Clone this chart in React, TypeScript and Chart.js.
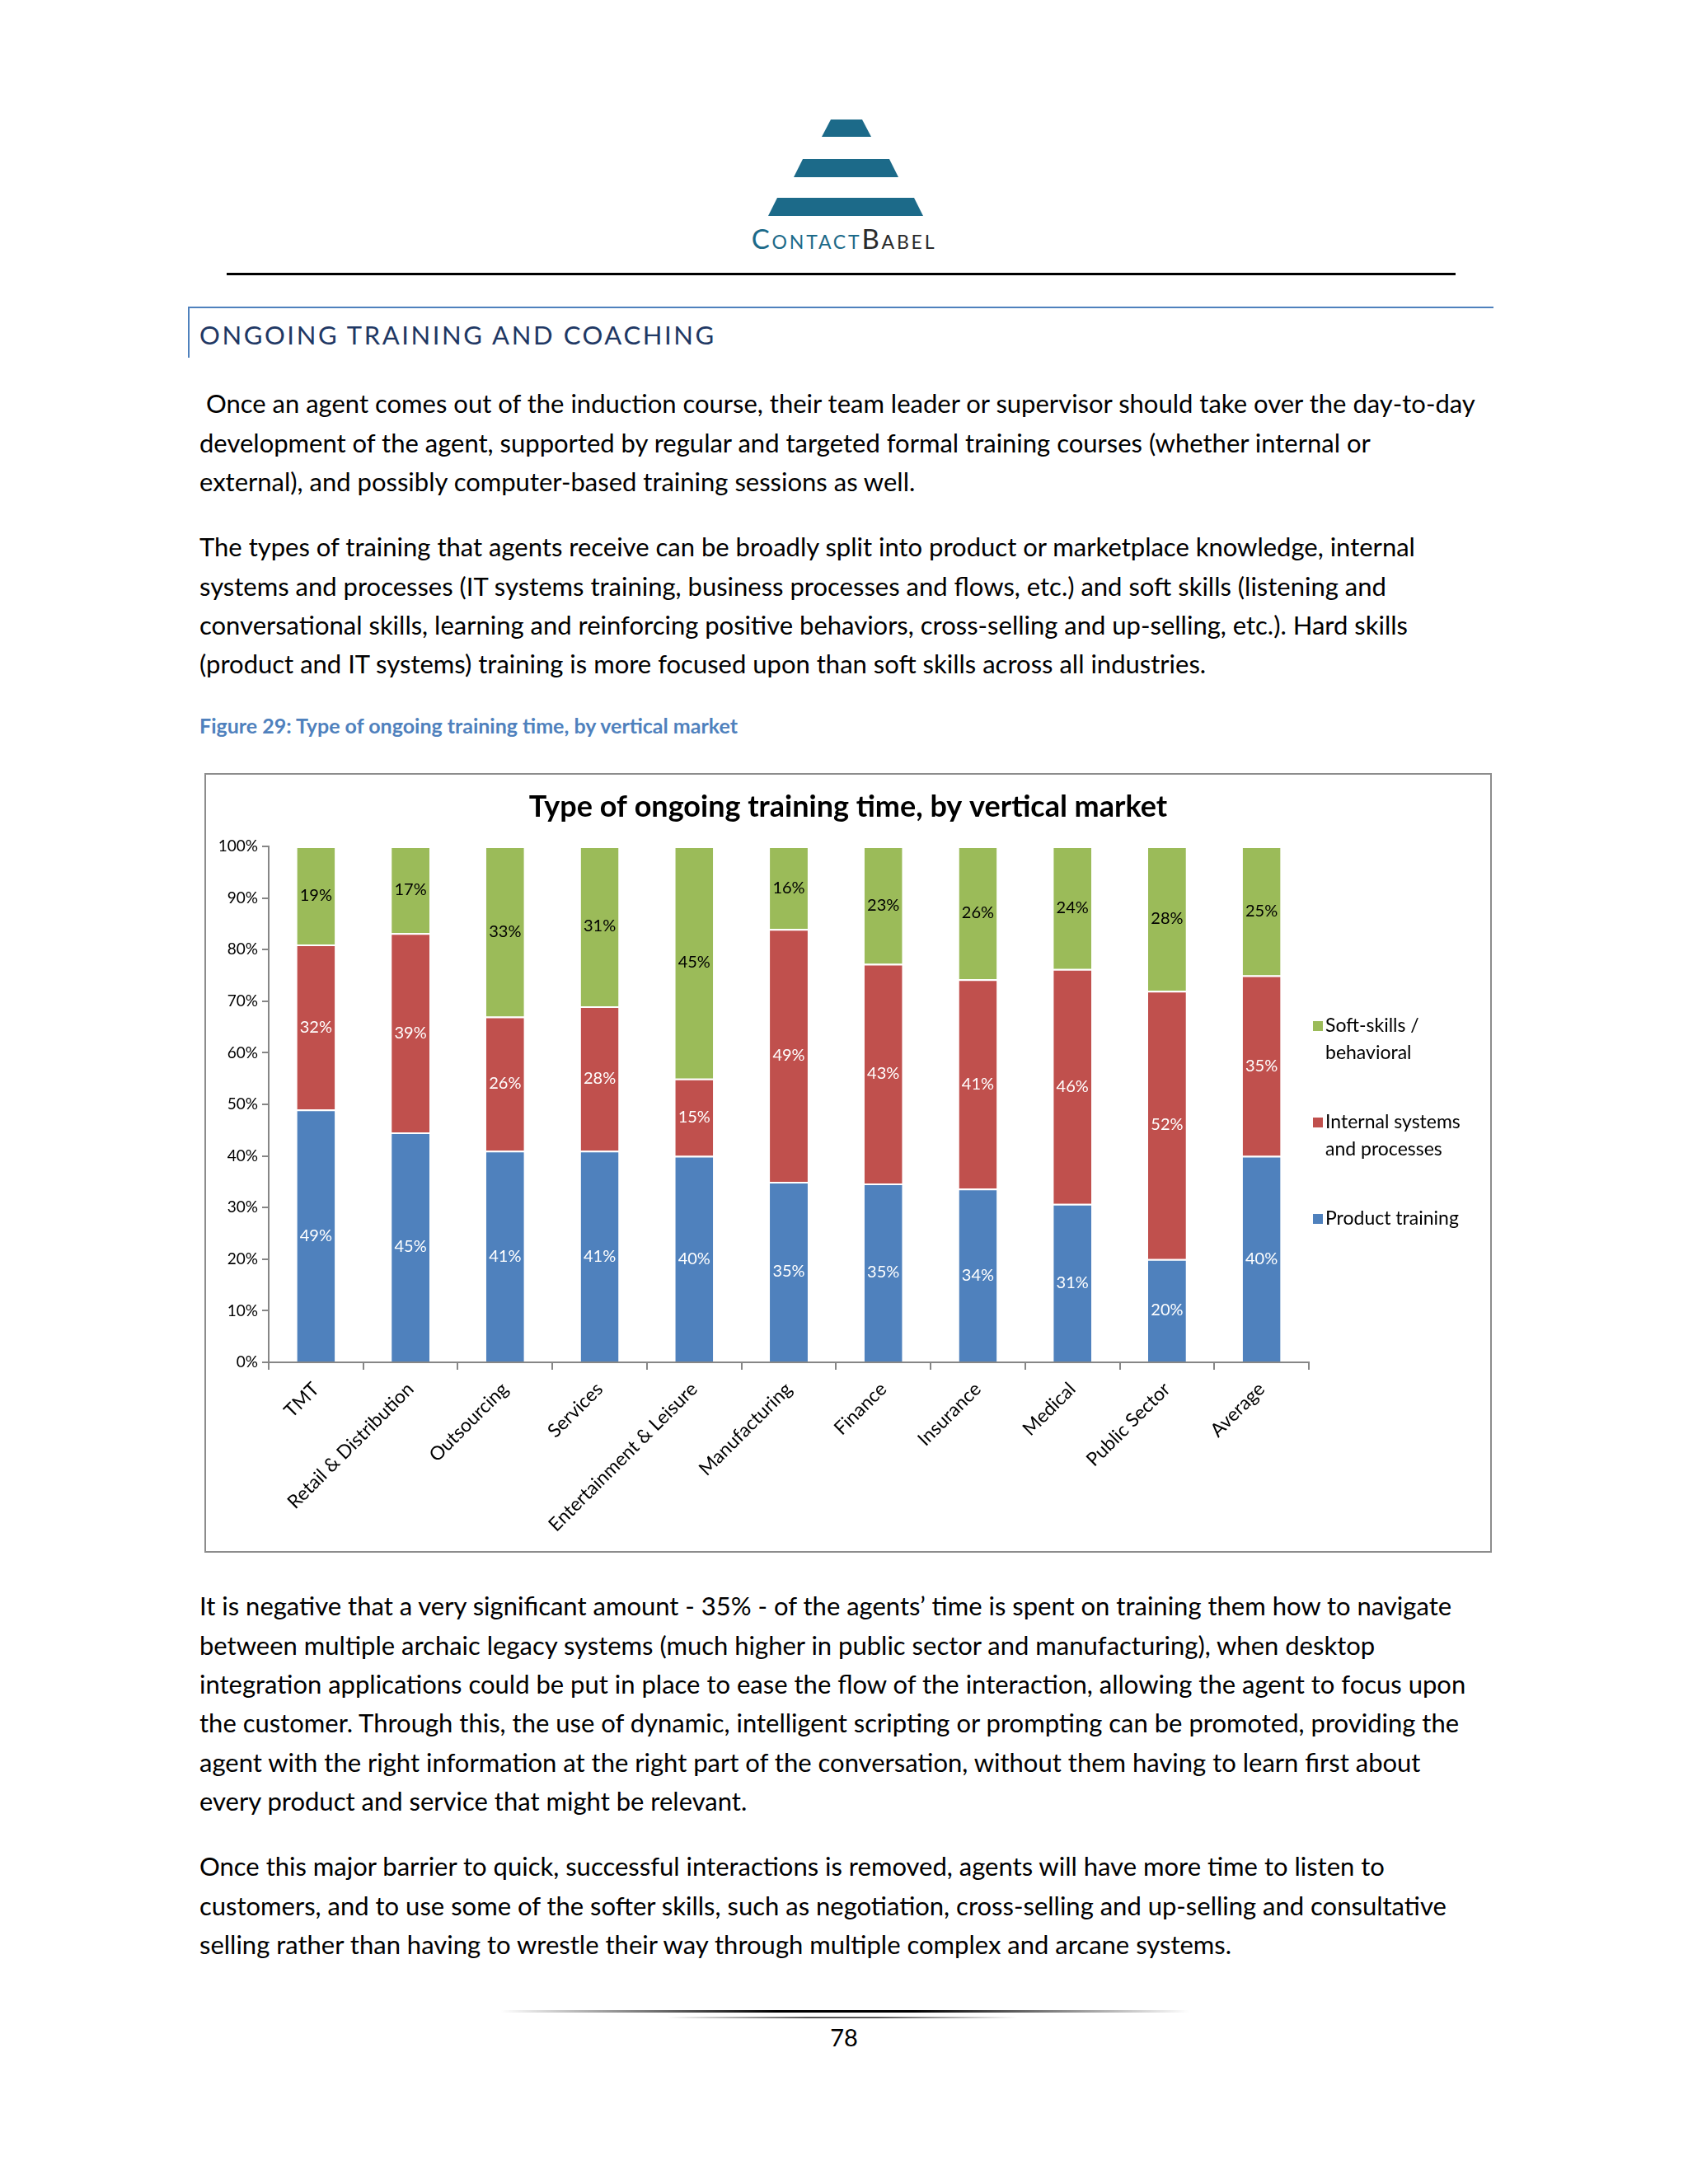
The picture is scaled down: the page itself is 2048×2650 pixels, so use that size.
import React, { useEffect, useRef } from "react";
import { Chart, registerables } from "chart.js";

Chart.register(...registerables);

const categories = [
  "TMT",
  "Retail & Distribution",
  "Outsourcing",
  "Services",
  "Entertainment & Leisure",
  "Manufacturing",
  "Finance",
  "Insurance",
  "Medical",
  "Public Sector",
  "Average",
];
const productTraining = [49, 45, 41, 41, 40, 35, 35, 34, 31, 20, 40];
const internalSystems = [32, 39, 26, 28, 15, 49, 43, 41, 46, 52, 35];
const softSkills = [19, 17, 33, 31, 45, 16, 23, 26, 24, 28, 25];
const yTicks = [0, 10, 20, 30, 40, 50, 60, 70, 80, 90, 100];

const seriesNames = ["Product training", "Internal systems and processes", "Soft-skills / behavioral"];
const legendLines = [["Soft-skills /", "behavioral"], ["Internal systems", "and processes"], ["Product training"]];
const COLORS = { blue: "#4F81BD", red: "#C0504D", green: "#9BBB59" };
const FONT = "Lato, 'Open Sans', sans-serif";
const chartTitle = "Type of ongoing training time, by vertical market";

const P1 = [
  "\u00a0Once an agent comes out of the induction course, their team leader or supervisor should take over the day-to-day",
  "development of the agent, supported by regular and targeted formal training courses (whether internal or",
  "external), and possibly computer-based training sessions as well.",
];
const P2 = [
  "The types of training that agents receive can be broadly split into product or marketplace knowledge, internal",
  "systems and processes (IT systems training, business processes and flows, etc.) and soft skills (listening and",
  "conversational skills, learning and reinforcing positive behaviors, cross-selling and up-selling, etc.). Hard skills",
  "(product and IT systems) training is more focused upon than soft skills across all industries.",
];
const P3 = [
  "It is negative that a very significant amount - 35% - of the agents\u2019 time is spent on training them how to navigate",
  "between multiple archaic legacy systems (much higher in public sector and manufacturing), when desktop",
  "integration applications could be put in place to ease the flow of the interaction, allowing the agent to focus upon",
  "the customer. Through this, the use of dynamic, intelligent scripting or prompting can be promoted, providing the",
  "agent with the right information at the right part of the conversation, without them having to learn first about",
  "every product and service that might be relevant.",
];
const P4 = [
  "Once this major barrier to quick, successful interactions is removed, agents will have more time to listen to",
  "customers, and to use some of the softer skills, such as negotiation, cross-selling and up-selling and consultative",
  "selling rather than having to wrestle their way through multiple complex and arcane systems.",
];

const LH = 47.3;
const BODY_FS = 31;

function Para({ lines, top }: { lines: string[]; top: number }) {
  return (
    <div
      style={{
        position: "absolute",
        left: 242,
        top: top - LH / 2,
        fontFamily: FONT,
        fontSize: BODY_FS,
        lineHeight: LH + "px",
        color: "#000",
        whiteSpace: "pre",
      }}
    >
      {lines.map((l, i) => (
        <div key={i} style={{ height: LH }}>
          {l}
        </div>
      ))}
    </div>
  );
}

function ChartBox() {
  const ref = useRef<HTMLCanvasElement | null>(null);
  useEffect(() => {
    if (!ref.current) return;
    const totals = categories.map((_, i) => productTraining[i] + internalSystems[i] + softSkills[i]);
    const share = (arr: number[]) => arr.map((v, i) => (v / totals[i]) * 100);
    const raw = [productTraining, internalSystems, softSkills];

    const labelPlugin = {
      id: "segLabels",
      afterDatasetsDraw(chart: any) {
        const ctx = chart.ctx;
        ctx.save();
        ctx.font = `20px ${FONT}`;
        ctx.textAlign = "center";
        ctx.textBaseline = "middle";
        chart.data.datasets.forEach((ds: any, di: number) => {
          const meta = chart.getDatasetMeta(di);
          meta.data.forEach((el: any, i: number) => {
            const y = (el.y + el.base) / 2;
            ctx.fillStyle = di === 2 ? "#000" : "#fff";
            ctx.fillText(raw[di][i] + "%", el.x, y);
          });
        });
        ctx.restore();
      },
    };

    const decorPlugin = {
      id: "decor",
      afterDraw(chart: any) {
        const ctx = chart.ctx;
        const area = chart.chartArea;
        ctx.save();
        // title
        ctx.font = `bold 36px ${FONT}`;
        ctx.fillStyle = "#000";
        ctx.textAlign = "center";
        ctx.textBaseline = "middle";
        ctx.fillText(chartTitle, chart.width / 2, 39);
        // legend
        const lx = area.right + 5;
        const cols = [COLORS.green, COLORS.red, COLORS.blue];
        const ys = [area.top + 218, area.top + 335, area.top + 452];
        ctx.font = `23px ${FONT}`;
        ctx.textAlign = "left";
        legendLines.forEach((lines, k) => {
          ctx.fillStyle = cols[k];
          ctx.fillRect(lx, ys[k] - 6, 12, 12);
          ctx.fillStyle = "#000";
          lines.forEach((t, j) => ctx.fillText(t, lx + 15, ys[k] + j * 33));
        });
        ctx.restore();
      },
    };

    const chart = new Chart(ref.current, {
      type: "bar",
      data: {
        labels: categories,
        datasets: [
          { label: seriesNames[0], data: share(productTraining), backgroundColor: COLORS.blue },
          { label: seriesNames[1], data: share(internalSystems), backgroundColor: COLORS.red },
          { label: seriesNames[2], data: share(softSkills), backgroundColor: COLORS.green },
        ].map((d) => ({
          ...d,
          borderColor: "#ffffff",
          borderWidth: { top: 2, left: 0, right: 0, bottom: 0 },
          borderSkipped: false,
          categoryPercentage: 1,
          barPercentage: 0.4,
        })),
      },
      options: {
        responsive: false,
        devicePixelRatio: 1,
        animation: false,
        layout: { padding: { top: 87, right: 220, bottom: 0, left: 0 } },
        plugins: { legend: { display: false }, title: { display: false }, tooltip: { enabled: false } },
        scales: {
          x: {
            stacked: true,
            afterFit: (s: any) => {
              s.height = 229;
            },
            grid: { offset: true, drawOnChartArea: false, drawTicks: true, tickLength: 9, color: "#868686", lineWidth: 2 },
            border: { display: true, color: "#868686", width: 2 },
            ticks: {
              minRotation: 45,
              maxRotation: 45,
              autoSkip: false,
              padding: 10,
              color: "#000",
              font: { family: FONT, size: 23 },
            },
          },
          y: {
            stacked: true,
            min: 0,
            max: 100,
            afterFit: (s: any) => {
              s.width = 76;
            },
            afterBuildTicks: (s: any) => {
              s.ticks = yTicks.map((v) => ({ value: v }));
            },
            grid: { drawOnChartArea: false, drawTicks: true, tickLength: 8, color: "#868686", lineWidth: 2 },
            border: { display: true, color: "#868686", width: 2 },
            ticks: {
              padding: 5,
              color: "#000",
              font: { family: FONT, size: 19 },
              callback: (v: any) => v + "%",
            },
          },
        },
      },
      plugins: [labelPlugin, decorPlugin],
    });
    return () => chart.destroy();
  }, []);
  return (
    <div
      style={{
        position: "absolute",
        left: 248,
        top: 938,
        width: 1558,
        height: 942,
        border: "2px solid #8c8c8c",
        background: "#fff",
      }}
    >
      <canvas ref={ref} width={1558} height={942} style={{ width: 1558, height: 942, display: "block" }} />
    </div>
  );
}

export default function App() {
  const teal = "#1C6A89";
  const trap = (top: number, l: number, r: number, h: number, inset: number) => (
    <div
      style={{
        position: "absolute",
        left: l,
        top,
        width: r - l,
        height: h,
        background: teal,
        clipPath: `polygon(${inset}px 0, ${r - l - inset}px 0, 100% 100%, 0 100%)`,
      }}
    />
  );
  return (
    <div
      style={{
        position: "absolute",
        left: 0,
        top: 0,
        width: 2048,
        height: 2650,
        background: "#fff",
        overflow: "hidden",
        fontFamily: FONT,
      }}
    >
      {trap(145, 997, 1057, 21, 11)}
      {trap(193, 963, 1090, 22, 11)}
      {trap(240, 932, 1120, 22, 11)}
      <div
        style={{
          position: "absolute",
          left: 0,
          width: 2048,
          top: 269,
          textAlign: "center",
          fontSize: 33,
          lineHeight: "40px",
          fontVariant: "small-caps",
          letterSpacing: 2.8,
        }}
      >
        <span style={{ color: teal }}>Contact</span>
        <span style={{ color: "#2a2a2a" }}>Babel</span>
      </div>
      <div style={{ position: "absolute", left: 275, top: 331, width: 1491, height: 3, background: "#000" }} />
      <div style={{ position: "absolute", left: 228, top: 372, width: 1584, height: 2, background: "#4F81BD" }} />
      <div style={{ position: "absolute", left: 228, top: 372, width: 2, height: 62, background: "#4F81BD" }} />
      <div
        style={{
          position: "absolute",
          left: 242,
          top: 386,
          fontSize: 31,
          lineHeight: "40px",
          letterSpacing: 2.6,
          color: "#1F3864",
          fontWeight: 400,
          whiteSpace: "pre",
        }}
      >
        ONGOING TRAINING AND COACHING
      </div>
      <Para lines={P1} top={490} />
      <Para lines={P2} top={664} />
      <div
        style={{
          position: "absolute",
          left: 242,
          top: 865,
          fontSize: 25,
          lineHeight: "30px",
          fontWeight: 700,
          color: "#4F81BD",
          whiteSpace: "pre",
        }}
      >
        Figure 29: Type of ongoing training time, by vertical market
      </div>
      <ChartBox />
      <Para lines={P3} top={1949} />
      <Para lines={P4} top={2265} />
      <div
        style={{
          position: "absolute",
          left: 607,
          top: 2439,
          width: 836,
          height: 3,
          background: "linear-gradient(to right, rgba(0,0,0,0), #000 40%, #000 60%, rgba(0,0,0,0))",
        }}
      />
      <div
        style={{
          position: "absolute",
          left: 810,
          top: 2447,
          width: 424,
          height: 2,
          background: "linear-gradient(to right, rgba(0,0,0,0), #555 40%, #555 60%, rgba(0,0,0,0))",
        }}
      />
      <div
        style={{
          position: "absolute",
          left: 0,
          width: 2048,
          top: 2454,
          textAlign: "center",
          fontSize: 29,
          lineHeight: "36px",
          color: "#000",
        }}
      >
        78
      </div>
    </div>
  );
}
